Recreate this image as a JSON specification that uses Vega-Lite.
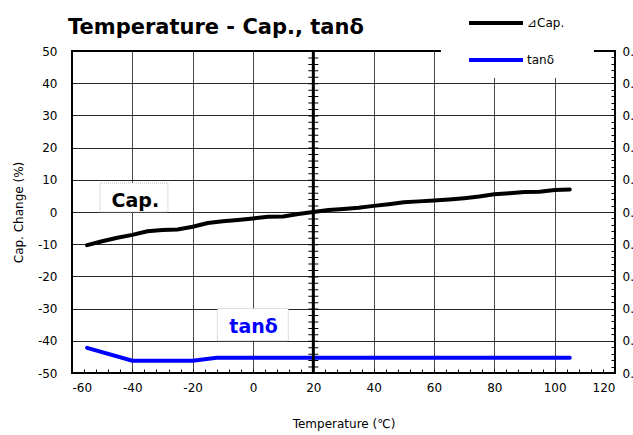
{
  "$schema": "https://vega.github.io/schema/vega-lite/v6.json",
  "width": 543,
  "height": 322,
  "autosize": {"type": "none"},
  "padding": {"left": 72, "top": 51, "right": 18, "bottom": 62},
  "background": "white",
  "title": {"text": "Temperature - Cap., tanδ", "anchor": "start", "frame": "group", "font": "DejaVu Sans", "fontSize": 21, "fontWeight": "bold", "color": "#000", "baseline": "alphabetic", "offset": -61, "dx": -4},
  "config": {
    "view": {"stroke": "#000", "strokeWidth": 2},
    "axis": {"domain": false, "labelFont": "DejaVu Sans", "labelFontSize": 12, "labelColor": "#000", "titleFont": "DejaVu Sans", "titleFontSize": 12, "titleFontWeight": "normal", "titleColor": "#000", "gridColor": "#000", "gridWidth": 1, "gridOpacity": 0.85, "tickColor": "#000", "labelOverlap": false},
    "legend": {"orient": "none", "legendX": 395, "legendY": -57, "title": null, "symbolType": "stroke", "symbolSize": 2916, "symbolStrokeWidth": 4, "labelFont": "DejaVu Sans", "labelFontSize": 12, "labelColor": "#000", "labelOffset": 2, "rowPadding": -20, "padding": 0}
  },
  "datasets": {
    "series": [
      {"T": -55, "v": -10.3, "s": "⊿Cap."},
      {"T": -50, "v": -9.1, "s": "⊿Cap."},
      {"T": -45, "v": -8.0, "s": "⊿Cap."},
      {"T": -40, "v": -7.1, "s": "⊿Cap."},
      {"T": -35, "v": -6.0, "s": "⊿Cap."},
      {"T": -30, "v": -5.6, "s": "⊿Cap."},
      {"T": -25, "v": -5.4, "s": "⊿Cap."},
      {"T": -20, "v": -4.6, "s": "⊿Cap."},
      {"T": -15, "v": -3.4, "s": "⊿Cap."},
      {"T": -10, "v": -2.9, "s": "⊿Cap."},
      {"T": -5, "v": -2.5, "s": "⊿Cap."},
      {"T": 0, "v": -2.0, "s": "⊿Cap."},
      {"T": 5, "v": -1.5, "s": "⊿Cap."},
      {"T": 10, "v": -1.4, "s": "⊿Cap."},
      {"T": 15, "v": -0.6, "s": "⊿Cap."},
      {"T": 20, "v": 0.0, "s": "⊿Cap."},
      {"T": 25, "v": 0.6, "s": "⊿Cap."},
      {"T": 30, "v": 0.9, "s": "⊿Cap."},
      {"T": 35, "v": 1.3, "s": "⊿Cap."},
      {"T": 40, "v": 1.9, "s": "⊿Cap."},
      {"T": 45, "v": 2.4, "s": "⊿Cap."},
      {"T": 50, "v": 3.0, "s": "⊿Cap."},
      {"T": 55, "v": 3.3, "s": "⊿Cap."},
      {"T": 60, "v": 3.6, "s": "⊿Cap."},
      {"T": 65, "v": 3.9, "s": "⊿Cap."},
      {"T": 70, "v": 4.3, "s": "⊿Cap."},
      {"T": 75, "v": 4.8, "s": "⊿Cap."},
      {"T": 80, "v": 5.5, "s": "⊿Cap."},
      {"T": 85, "v": 5.8, "s": "⊿Cap."},
      {"T": 90, "v": 6.2, "s": "⊿Cap."},
      {"T": 95, "v": 6.3, "s": "⊿Cap."},
      {"T": 100, "v": 6.8, "s": "⊿Cap."},
      {"T": 105, "v": 7.0, "s": "⊿Cap."},
      {"T": -55, "v": -42.2, "s": "tanδ"},
      {"T": -40, "v": -46.2, "s": "tanδ"},
      {"T": -30, "v": -46.2, "s": "tanδ"},
      {"T": -20, "v": -46.2, "s": "tanδ"},
      {"T": -12, "v": -45.3, "s": "tanδ"},
      {"T": 0, "v": -45.3, "s": "tanδ"},
      {"T": 20, "v": -45.3, "s": "tanδ"},
      {"T": 40, "v": -45.3, "s": "tanδ"},
      {"T": 60, "v": -45.3, "s": "tanδ"},
      {"T": 80, "v": -45.3, "s": "tanδ"},
      {"T": 105, "v": -45.3, "s": "tanδ"}
    ]
  },
  "resolve": {"axis": {"y": "independent"}},
  "layer": [
    {
      "data": {"name": "series"},
      "transform": [{"filter": "datum.s === '⊿Cap.'"}],
      "mark": {"type": "line", "strokeWidth": 4, "strokeCap": "round"},
      "encoding": {
        "x": {"field": "T", "type": "quantitative", "scale": {"domain": [-60, 120]}, "axis": {"title": "Temperature (℃)", "values": [-60,-56,-52,-48,-44,-40,-36,-32,-28,-24,-20,-16,-12,-8,-4,0,4,8,12,16,20,24,28,32,36,40,44,48,52,56,60,64,68,72,76,80,84,88,92,96,100,104,108,112,116,120], "tickCount": 200, "grid": true, "ticks": true, "tickSize": -4, "tickWidth": 1, "tickOpacity": 1, "labelPadding": 13, "titlePadding": 25, "labelOverlap": false, "labelExpr": "datum.value % 20 === 0 ? '' + datum.value : ''", "gridOpacity": {"condition": {"test": "datum.value % 20 === 0", "value": 0.85}, "value": 0}}},
        "y": {"field": "v", "type": "quantitative", "scale": {"domain": [-50, 50]}, "axis": {"orient": "left", "title": "Cap. Change (%)", "values": [-50,-40,-30,-20,-10,0,10,20,30,40,50], "tickCount": 200, "grid": true, "ticks": false, "tickSize": 0, "labelPadding": 15, "titlePadding": 12, "labelOverlap": false, "labelExpr": "'' + datum.value"}},
        "color": {"field": "s", "type": "nominal", "scale": {"domain": ["⊿Cap.", "tanδ"], "range": ["#000000", "#0000ff"]}}
      }
    },
    {
      "data": {"name": "series"},
      "transform": [{"filter": "datum.s === 'tanδ'"}],
      "mark": {"type": "line", "strokeWidth": 4, "strokeCap": "round"},
      "encoding": {
        "x": {"field": "T", "type": "quantitative"},
        "y": {"field": "v", "type": "quantitative", "axis": {"orient": "right", "title": null, "grid": false, "ticks": true, "tickWidth": 1, "tickOpacity": 1, "tickCount": 200, "values": [-50,-48,-46,-44,-42,-40,-38,-36,-34,-32,-30,-28,-26,-24,-22,-20,-18,-16,-14,-12,-10,-8,-6,-4,-2,0,2,4,6,8,10,12,14,16,18,20,22,24,26,28,30,32,34,36,38,40,42,44,46,48,50], "tickSize": -4, "labelPadding": 11, "labelOverlap": false, "labelExpr": "datum.value % 10 === 0 ? format((datum.value + 50) / 1000, '.2f') : ''"}},
        "color": {"field": "s", "type": "nominal"}
      }
    },
    {
      "data": {"values": [{}]},
      "mark": {"type": "rect", "fill": "white", "stroke": null},
      "encoding": {
        "x": {"datum": 62.3, "type": "quantitative"},
        "x2": {"datum": 113},
        "y": {"datum": 41.6, "type": "quantitative", "axis": null},
        "y2": {"datum": 50.4}
      }
    },
    {
      "data": {"values": [{}]},
      "mark": {"type": "rect", "fill": "white", "stroke": "#bbbbbb", "strokeWidth": 1, "strokeDash": [1, 1]},
      "encoding": {
        "x": {"datum": -50.7, "type": "quantitative"},
        "x2": {"datum": -28.2},
        "y": {"datum": 0, "type": "quantitative", "axis": null},
        "y2": {"datum": 9}
      }
    },
    {
      "data": {"values": [{}]},
      "mark": {"type": "rect", "fill": "white", "stroke": "#bbbbbb", "strokeWidth": 1, "strokeDash": [1, 1]},
      "encoding": {
        "x": {"datum": -11.8, "type": "quantitative"},
        "x2": {"datum": 11.7},
        "y": {"datum": -40, "type": "quantitative", "axis": null},
        "y2": {"datum": -30}
      }
    },
    {
      "data": {"values": [{}]},
      "mark": {"type": "rule", "color": "#000", "strokeWidth": 3},
      "encoding": {
        "x": {"datum": 20, "type": "quantitative"},
        "y": {"datum": 50, "type": "quantitative", "axis": null},
        "y2": {"datum": -50}
      }
    },
    {
      "data": {"values": [{}]},
      "mark": {"type": "rule", "color": "#000", "strokeWidth": 10, "strokeDash": [1, 5.44]},
      "encoding": {
        "x": {"datum": 20, "type": "quantitative"},
        "y": {"datum": 50, "type": "quantitative", "axis": null},
        "y2": {"datum": -50}
      }
    },
    {
      "data": {"values": [{}]},
      "mark": {"type": "text", "text": "Cap.", "font": "DejaVu Sans", "fontSize": 19, "fontWeight": "bold", "color": "#000", "align": "center", "baseline": "middle"},
      "encoding": {
        "x": {"datum": -39, "type": "quantitative"},
        "y": {"datum": 3.4, "type": "quantitative", "axis": null}
      }
    },
    {
      "data": {"values": [{}]},
      "mark": {"type": "text", "text": "tanδ", "font": "DejaVu Sans", "fontSize": 19, "fontWeight": "bold", "color": "#0000ff", "align": "center", "baseline": "middle"},
      "encoding": {
        "x": {"datum": 0.2, "type": "quantitative"},
        "y": {"datum": -35.7, "type": "quantitative", "axis": null}
      }
    }
  ]
}
